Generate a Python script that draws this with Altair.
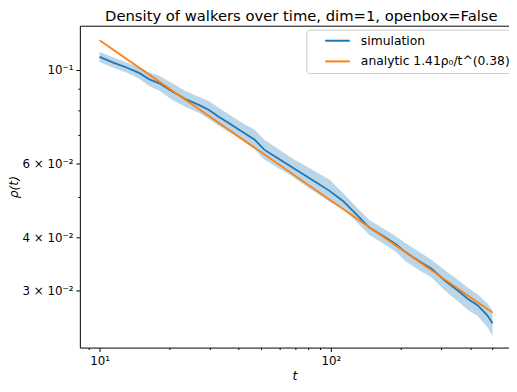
import altair as alt
import pandas as pd

# simulation mean and band
t_sim = [10, 11.47, 13.07, 14.90, 16.43, 18.13, 20.64, 23.52, 26.83, 29.59, 32.63,
         37.17, 42.35, 46.71, 51.51, 58.75, 66.92, 76.23, 86.93, 99.0, 112.8, 128.6,
         146.6, 167.0, 190.4, 210.0, 239.2, 272.5, 310.7, 353.9, 390.4, 430.5, 474.8, 500]
rho_sim = [0.1073, 0.1040, 0.1013, 0.0982, 0.0949, 0.0929, 0.0888, 0.0853, 0.0826,
           0.0804, 0.0775, 0.0741, 0.0708, 0.0684, 0.0647, 0.0618, 0.0591, 0.0565,
           0.0540, 0.0516, 0.0489, 0.0455, 0.0423, 0.0405, 0.0387, 0.0370, 0.0353,
           0.0338, 0.0317, 0.0300, 0.0287, 0.0277, 0.0262, 0.0251]
rho_hi = [0.1103, 0.1069, 0.1041, 0.1014, 0.0986, 0.0968, 0.0930, 0.0891, 0.0863,
          0.0844, 0.0814, 0.0777, 0.0743, 0.0722, 0.0683, 0.0651, 0.0621, 0.0596,
          0.0572, 0.0548, 0.0511, 0.0474, 0.0441, 0.0422, 0.0404, 0.0389, 0.0371,
          0.0355, 0.0335, 0.0318, 0.0305, 0.0294, 0.0280, 0.0269]
rho_lo = [0.1044, 0.1012, 0.0986, 0.0951, 0.0914, 0.0892, 0.0848, 0.0817, 0.0791,
          0.0766, 0.0738, 0.0707, 0.0674, 0.0648, 0.0613, 0.0586, 0.0563, 0.0535,
          0.0510, 0.0486, 0.0468, 0.0437, 0.0406, 0.0389, 0.0371, 0.0352, 0.0336,
          0.0322, 0.0300, 0.0283, 0.0270, 0.0261, 0.0246, 0.0234]

# analytic power law (straight line in log-log)
t_ana = [10, 500]
rho_ana = [0.1175, 0.0266]

SIM = "simulation"
ANA = "analytic 1.41ρ₀/t^(0.38)"

x_ticks = [9, 10, 20, 30, 40, 50, 60, 70, 80, 90, 100, 200, 300, 400, 500]
y_ticks = [0.03, 0.04, 0.05, 0.06, 0.07, 0.08, 0.09, 0.1]

sim_df = pd.DataFrame({"t": t_sim, "rho": rho_sim, "lo": rho_lo, "hi": rho_hi,
                       "series": [SIM] * len(t_sim)})
ana_df = pd.DataFrame({"t": t_ana, "rho": rho_ana, "series": [ANA] * len(t_ana)})

FONT = "DejaVu Sans"
xscale = alt.Scale(type="log", domain=[8.22, 589], nice=False)
yscale = alt.Scale(type="log", domain=[0.02198, 0.1272], nice=False)
color = alt.Color("series:N",
                  scale=alt.Scale(domain=[SIM, ANA], range=["#1f77b4", "#ff7f0e"]),
                  legend=alt.Legend(title=None, orient="none", legendX=230, legendY=4,
                                    symbolType="M-2.5,0L2.5,0", symbolSize=100,
                                    symbolStrokeWidth=2, symbolOffset=20.5,
                                    labelOffset=17.5, labelFont=FONT, labelFontSize=12.5,
                                    labelLimit=400, padding=5, rowPadding=8,
                                    strokeColor="#cccccc", fillColor="#ffffff",
                                    cornerRadius=3, labelColor="black"))

tick_cond_x = {"condition": {"test": "datum.value == 10 || datum.value == 100", "value": 4}, "value": 2}
tick_cond_y = {"condition": {"test": "datum.value == 0.1 || datum.value == 0.06 || datum.value == 0.04 || datum.value == 0.03", "value": 4}, "value": 2}

x_bottom = alt.Axis(values=x_ticks, title="t", titleFontStyle="italic",
                    labelExpr="datum.value == 10 ? '10¹' : datum.value == 100 ? '10²' : ''",
                    tickSize=tick_cond_x, labelPadding=4, titlePadding=3, grid=False)
y_left = alt.Axis(values=y_ticks, title="ρ(t)", titleFontStyle="italic",
                  labelExpr="datum.value == 0.1 ? '10⁻¹' : datum.value == 0.06 ? '6 × 10⁻²' : datum.value == 0.04 ? '4 × 10⁻²' : datum.value == 0.03 ? '3 × 10⁻²' : ''",
                  tickSize=tick_cond_y, labelPadding=3, titlePadding=2, grid=False)
x_top = alt.Axis(orient="top", values=x_ticks, title=None, labels=False, ticks=False,
                 grid=False, minExtent=0, maxExtent=0, offset=0)

band = alt.Chart(sim_df).mark_area(color="#1f77b4", opacity=0.3).encode(
    x=alt.X("t:Q", scale=xscale, axis=None),
    y=alt.Y("lo:Q", scale=yscale, axis=None),
    y2="hi:Q",
)
sim_line = alt.Chart(sim_df).mark_line(strokeWidth=1.8).encode(
    x=alt.X("t:Q", scale=xscale, axis=x_bottom),
    y=alt.Y("rho:Q", scale=yscale, axis=y_left),
    color=color,
)
ana_line = alt.Chart(ana_df).mark_line(strokeWidth=1.8).encode(
    x=alt.X("t:Q", scale=xscale, axis=x_top),
    y=alt.Y("rho:Q", scale=yscale, axis=None),
    color=color,
)

chart = alt.layer(band, sim_line, ana_line).resolve_axis(
    x="independent", y="independent"
).properties(
    width=436, height=327,
    title=alt.TitleParams("Density of walkers over time, dim=1, openbox=False",
                          font=FONT, fontSize=15, fontWeight="normal", color="black",
                          anchor="middle", offset=6, baseline="alphabetic", dx=7, dy=16),
    autosize=alt.AutoSizeParams(type="none"),
    padding={"left": 73, "top": 15, "right": 0, "bottom": 34},
).configure_view(stroke=None).configure_axis(
    labelFont=FONT, labelFontSize=12, labelColor="black", titleFont=FONT,
    titleFontSize=12.5, titleFontWeight="normal", titleColor="black",
    domainColor="black", domainWidth=1, tickColor="black", tickWidth=1,
)

chart.save("out.html", embed_options={"renderer": "svg", "actions": False})
